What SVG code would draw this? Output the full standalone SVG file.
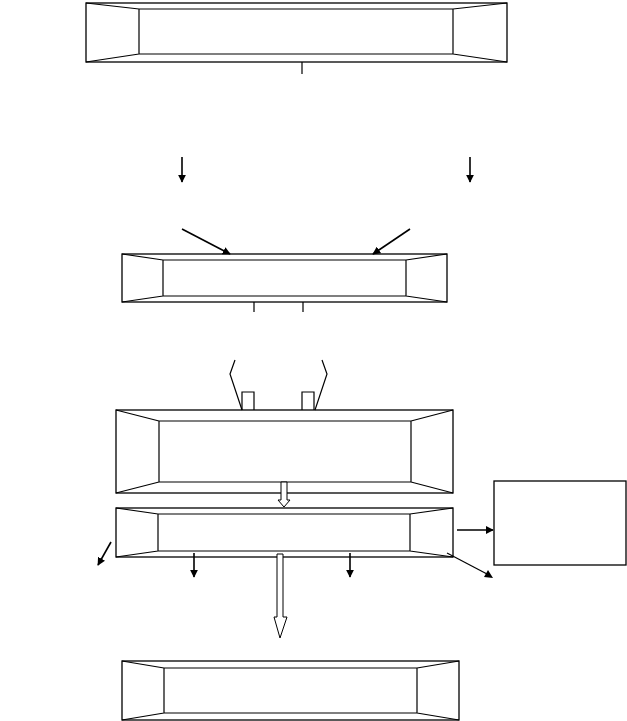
<svg xmlns="http://www.w3.org/2000/svg" width="627" height="721" viewBox="0 0 627 721">
<style>
.b{fill:#fff;stroke:#000;stroke-width:1.3}
.l{fill:none;stroke:#000;stroke-width:1.2}
.a{fill:none;stroke:#000;stroke-width:1.6}
.h{fill:#fff;stroke:#000;stroke-width:1}
</style>
<defs>
<marker id="ah" viewBox="0 0 10 10" refX="9" refY="5" markerWidth="5" markerHeight="5" orient="auto" markerUnits="strokeWidth">
<path d="M0,0 L10,5 L0,10 z" fill="#000"/>
</marker>
</defs>
<rect width="627" height="721" fill="#fff"/>
<g id="box1">
<rect class="b" x="86" y="3" width="421" height="59"/>
<path class="l" d="M139,9 H453 V54 H139 Z M86,3 L139,9 M507,3 L453,9 M86,62 L139,54 M507,62 L453,54"/>
</g>
<g id="box2">
<rect class="b" x="122" y="254" width="325" height="48"/>
<path class="l" d="M163,260 H406 V296 H163 Z M122,254 L163,260 M447,254 L406,260 M122,302 L163,296 M447,302 L406,296"/>
</g>
<g id="box3">
<rect class="b" x="116" y="410" width="337" height="83"/>
<path class="l" d="M159,421 H411 V482 H159 Z M116,410 L159,421 M453,410 L411,421 M116,493 L159,482 M453,493 L411,482"/>
</g>
<g id="box4">
<rect class="b" x="116" y="508" width="337" height="49"/>
<path class="l" d="M158,514 H410 V551 H158 Z M116,508 L158,514 M453,508 L410,514 M116,557 L158,551 M453,557 L410,551"/>
</g>
<g id="box5">
<rect class="b" x="122" y="661" width="337" height="59"/>
<path class="l" d="M164,668 H417 V713 H164 Z M122,661 L164,668 M459,661 L417,668 M122,720 L164,713 M459,720 L417,713"/>
</g>
<g id="box6">
<rect class="b" x="494" y="481" width="132" height="84"/>
</g>
<g id="connectors">
<path class="l" d="M302,62 V74"/>
<path class="l" d="M254,302 V312 M303,302 V312"/>
<path class="a" d="M182,157 V182" marker-end="url(#ah)"/>
<path class="a" d="M470,157 V182" marker-end="url(#ah)"/>
<path class="a" d="M182,229 L230,254" marker-end="url(#ah)"/>
<path class="a" d="M410,229 L373,254" marker-end="url(#ah)"/>
<path class="l" d="M235,360 L230,374 L242,410"/>
<path class="l" d="M322,360 L327,374 L315,410"/>
<path class="l" d="M242,410 V392 H254 V410"/>
<path class="l" d="M302,410 V392 H314 V410"/>
<path class="h" d="M281,482 V500 H278 L284,507 L290,500 H287 V482 Z"/>
<path class="a" d="M194,553 V577" marker-end="url(#ah)"/>
<path class="a" d="M350,553 V577" marker-end="url(#ah)"/>
<path class="a" d="M111,542 L98,565" marker-end="url(#ah)"/>
<path class="a" d="M457,530 H493" marker-end="url(#ah)"/>
<path class="l" d="M447,553 L487,574"/>
<path d="M493,578 L484,577 L488,570 Z" fill="#000"/>
<path class="h" d="M277,554 V617 H274 L280,638 L287,617 H283 V554 Z"/>
</g>
</svg>
